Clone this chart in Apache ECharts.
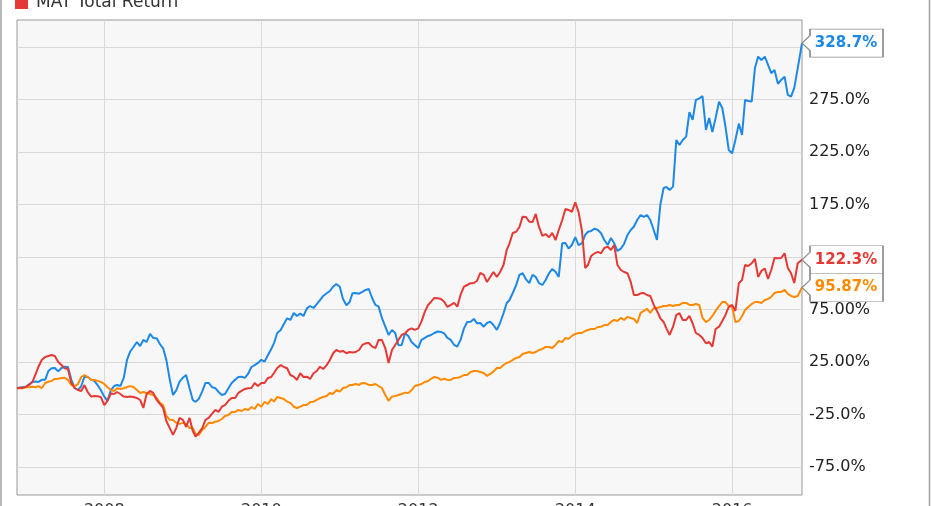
<!DOCTYPE html>
<html>
<head>
<meta charset="utf-8">
<script src="https://cdn.jsdelivr.net/npm/echarts@6/dist/echarts.min.js"></script>
<style>
html,body{margin:0;padding:0;background:#fff;}
#chart{width:931px;height:506px;}
</style>
</head>
<body>
<div id="chart"></div>
<script>
// ---------- DATA ----------
const dates = [
'2006-11-21','2006-12-01','2006-12-16',
'2007-01-01','2007-01-16','2007-02-01','2007-02-16','2007-03-01','2007-03-16','2007-04-01','2007-04-16','2007-05-01','2007-05-16','2007-06-01','2007-06-16','2007-07-01','2007-07-16','2007-08-01','2007-08-16','2007-09-01','2007-09-16','2007-10-01','2007-10-16','2007-11-01','2007-11-16','2007-12-01','2007-12-16',
'2008-01-01','2008-01-16','2008-02-01','2008-02-16','2008-03-01','2008-03-16','2008-04-01','2008-04-16','2008-05-01','2008-05-16','2008-06-01','2008-06-16','2008-07-01','2008-07-16','2008-08-01','2008-08-16','2008-09-01','2008-09-16','2008-10-01','2008-10-16','2008-11-01','2008-11-16','2008-12-01','2008-12-16',
'2009-01-01','2009-01-16','2009-02-01','2009-02-16','2009-03-01','2009-03-16','2009-04-01','2009-04-16','2009-05-01','2009-05-16','2009-06-01','2009-06-16','2009-07-01','2009-07-16','2009-08-01','2009-08-16','2009-09-01','2009-09-16','2009-10-01','2009-10-16','2009-11-01','2009-11-16','2009-12-01','2009-12-16',
'2010-01-01','2010-01-16','2010-02-01','2010-02-16','2010-03-01','2010-03-16','2010-04-01','2010-04-16','2010-05-01','2010-05-16','2010-06-01','2010-06-16','2010-07-01','2010-07-16','2010-08-01','2010-08-16','2010-09-01','2010-09-16','2010-10-01','2010-10-16','2010-11-01','2010-11-16','2010-12-01','2010-12-16',
'2011-01-01','2011-01-16','2011-02-01','2011-02-16','2011-03-01','2011-03-16','2011-04-01','2011-04-16','2011-05-01','2011-05-16','2011-06-01','2011-06-16','2011-07-01','2011-07-16','2011-08-01','2011-08-16','2011-09-01','2011-09-16','2011-10-01','2011-10-16','2011-11-01','2011-11-16','2011-12-01','2011-12-16',
'2012-01-01','2012-01-16','2012-02-01','2012-02-16','2012-03-01','2012-03-16','2012-04-01','2012-04-16','2012-05-01','2012-05-16','2012-06-01','2012-06-16','2012-07-01','2012-07-16','2012-08-01','2012-08-16','2012-09-01','2012-09-16','2012-10-01','2012-10-16','2012-11-01','2012-11-16','2012-12-01','2012-12-16',
'2013-01-01','2013-01-16','2013-02-01','2013-02-16','2013-03-01','2013-03-16','2013-04-01','2013-04-16','2013-05-01','2013-05-16','2013-06-01','2013-06-16','2013-07-01','2013-07-16','2013-08-01','2013-08-16','2013-09-01','2013-09-16','2013-10-01','2013-10-16','2013-11-01','2013-11-16','2013-12-01','2013-12-16',
'2014-01-01','2014-01-16','2014-02-01','2014-02-16','2014-03-01','2014-03-16','2014-04-01','2014-04-16','2014-05-01','2014-05-16','2014-06-01','2014-06-16','2014-07-01','2014-07-16','2014-08-01','2014-08-16','2014-09-01','2014-09-16','2014-10-01','2014-10-16','2014-11-01','2014-11-16','2014-12-01','2014-12-16',
'2015-01-01','2015-01-16','2015-02-01','2015-02-16','2015-03-01','2015-03-16','2015-04-01','2015-04-16','2015-05-01','2015-05-16','2015-06-01','2015-06-16','2015-07-01','2015-07-16','2015-08-01','2015-08-16','2015-09-01','2015-09-16','2015-10-01','2015-10-16','2015-11-01','2015-11-16','2015-12-01','2015-12-16',
'2016-01-01','2016-01-16','2016-02-01','2016-02-16','2016-03-01','2016-03-16','2016-04-01','2016-04-16','2016-05-01','2016-05-16','2016-06-01','2016-06-16','2016-07-01','2016-07-16','2016-08-01','2016-08-16','2016-09-01','2016-09-16','2016-10-01','2016-10-16','2016-11-01',
'2016-11-21'
];

// HAS total return (%)
const hasReturn = [
0, 0.5, 0.9,
1.3,3.8, 6,6.4, 6,8, 8,16.4, 19,19.3, 16,19.3, 20.5,20.2, 8,0.2, -1.7,2.1, 11,10.7, 8,7, 3,-1.7,
-8,-12, -1.7,2.1, 3,2.1, 10,27, 35,39.3, 44,40.2, 46,44, 51.7,47.9, 47.5,42.1, 38,27, 8,-6.4, -2,6,
10,12.6, 0,-11.2, -13,-10.2, -3,5, 5,1.2, 0,-3.6, -6.4,-5.5, 0,5, 8,10.7, 11,9.8, 14,20.2, 22,24.1,
27,25.3, 31.7,37.4, 43,52.6, 55.5,61.2, 66.6,65, 71.7,68.8, 71,68.8, 76,78.3, 76.4,80.2, 84,87.9, 90.4,92.6, 96.7,99.3,
96.7,85, 79,82.1, 90.4,90.7, 90,91.7, 93.6,94.5, 85.7,79.3, 77.7,66.9, 58.6,50.7, 55.5,52.6, 41,41.2, 52.3,49.8, 44,41.2,
38.3,46, 48,49.8, 50.7,52.6, 54,53.6, 52.3,47.9, 46,41.2, 39.6,46, 57,63.1, 63.4,66, 61.8,62.1, 58.6,62.1, 63.4,60.2,
55.5,62.1, 71.4,81.2, 84,90.7, 98.3,107.9, 109.5,104, 100,107.9, 106,100.2, 98.3,103.1, 109.5,113.6, 111,106, 138,138.3, 133,136.4,
144,136.4, 138,146, 149,149.8, 152,150.7, 147.6,141.2, 136.4,143.1, 138,130.7, 133,137.4, 146,150.7, 154,160.2, 165,163.1, 165,160.2,
150.7,141.2, 175,190.7, 191.6,188.8, 192,236.4, 231.7,236.4, 239.6,263, 255.5,274.5, 276,278.3, 246,257.4, 244,257.4, 273,266.9, 249,226.9,
223.8,236.4, 252,241.2, 274.5,273.6, 273,305, 315.8,312.6, 315.8,307.9, 300,303.1, 290,293.6, 296.7,279.3, 277.7,286, 304.7,
328.7
];

// MAT total return (%)
const matReturn = [
0, 0.5, 0.2,
1.3,3.1, 6,13.6, 20.5,26.9, 29.8,30.7, 31.7,30.7, 25,22.1, 19,18.3, 5,0.2, -1.7,-2.6, 3,-3.6, -8,-7.4, -7.6,-8.3,
-16,-12, -5,-5.5, -3.6,-5.5, -8,-8.3, -8,-8.3, -9.3,-11.2, -18.8,-5.5, -2.6,-4.5, -11.2,-15, -18.8,-31.2, -38,-44.5, -38,-28.3,
-30.2,-36.9, -28.3,-40.7, -46,-42.6, -38,-30.2, -28.3,-24.5, -20.7,-22.6, -17.6,-16, -12,-9.3, -9.3,-4.5, -2.6,-0.7, 0,0.2, 5,2.1,
5,5, 9.8,10.7, 14.5,19.3, 22,20.2, 19,12.6, 11,7.9, 14.3,10.7, 11,8.8, 14.3,16.4, 20.5,18.3, 22,26.9, 33.3,36.4,
34.8,35.5, 33.3,34.5, 34,34.5, 36.4,41.2, 42.8,43.1, 39.6,38.3, 46,46, 38,24, 36.4,41.2, 46,50.7, 52.3,55.5, 57,55.5,
57,63.4, 73,79.3, 82.4,86, 85.7,85, 82.4,77.4, 79.3,81.2, 77.7,88.8, 96.7,98.3, 100,100.2, 102.4,109.8, 107.9,101.2, 106,110.7,
106,110.7, 117.4,131.7, 138,147.9, 149,153.6, 163.4,163.1, 158.6,158.3, 166,153.6, 145,146.9, 143.8,147.9, 141,150.7, 160,170.7, 169.8,167.9,
177,167.9, 150,114.5, 117.4,126, 128.5,129.8, 128.5,133.6, 134.8,131.7, 136.4,117.4, 112.6,110.7, 109.5,101.2, 88.8,88.8, 90.4,90.7, 88.8,87.9,
79.3,73.6, 66.6,63.1, 57,50.7, 58.6,69.8, 71.4,65, 65,68.8, 61.9,52.6, 50.7,47.9, 42.8,44, 39.6,56.4, 58.6,64, 69.8,77.4,
79.3,73.6, 100,103.1, 117.4,116.4, 119,123.1, 106,111.7, 114,104, 112.6,124, 123.7,124, 128.5,114.5, 109.5,100.2, 119,
122.3
];

// S&P 500 total return (%)
const spxReturn = [
0, 0, 0,
1,0.9, 1.3,0.9, 2,0, 5,6.2, 7,8.8, 9,9.8, 10,7.9, 3,2.1, 4,10.7, 12.6,10.7, 8,7.9, 7,6,
4,0.9, -1.7,-2.6, 0,-0.8, 0,1.2, 2,1.2, -1.7,-4.5, -3.6,-4.5, -5.5,-6.4, -9.3,-14, -16,-26.4, -30,-30.2, -33,-34,
-33,-34, -38,-37.9, -43.6,-44.5, -39.8,-36.9, -33,-33.1, -32,-31.2, -29.3,-26.4, -25.5,-22.6, -22.6,-20.7, -21.7,-19.8, -20.7,-17.9, -19.8,-15,
-17.6,-13.1, -15,-10.2, -12.8,-8.3, -9.3,-10.2, -12.8,-14, -17.6,-18.8, -17.6,-16, -16,-13.1, -12.8,-11.2, -9.5,-8.3, -7.4,-4.5, -5.5,-1.7,
-3.3,0.2, 0.9,3.1, 3.1,4, 3.1,5, 4.7,3.1, 3.1,4, 2.1,0.2, -6.4,-12, -8,-7.4, -6.4,-5.5, -4.2,-4.5, -2,2.1,
3.1,4, 6,6.9, 9,10.7, 10,7.9, 9,7.9, 8,9.8, 10,10.7, 12.6,12.6, 15.5,16.4, 16.4,15.5, 14.5,11.7, 13.6,15.8,
19.3,19.3, 22.1,24.1, 25,26.9, 28.8,29.8, 32.6,33.6, 34.5,33.6, 34.5,36.4, 37.4,39.3, 39.3,38.3, 41.2,45, 44,47.9, 47,49.8,
51.7,52.6, 52.6,54.5, 55.5,56.4, 56.4,58.3, 58.6,60.2, 60.2,63.1, 65,64, 67,65, 68,66.9, 66,62.1, 71.7,73.6, 75.5,71.7,
76.4,76.4, 77.4,78.3, 78.3,79.3, 78.3,79.3, 79.3,81.2, 81.2,79.3, 79.3,80.2, 79.3,66.9, 63,65, 68.8,73.6, 78.3,82.1, 82.1,78.3,
77.4,63.1, 64,68.8, 74.5,77.4, 80.2,82.1, 82.1,81.2, 84,85, 86.9,90.7, 91.7,91.7, 93.6,89.8, 87.9,86.9, 87.9,
95.87
];

const seriesNames = ['HAS Total Return', 'S&P 500 Total Return', 'MAT Total Return'];
const seriesColors = ['#1e88e5', '#ff8a00', '#e53935'];

const yTickValues = [-75, -25, 25, 75, 125, 175, 225, 275, 325];
const yTickLabels = ['-75.0%', '-25.0%', '25.00%', '75.00%', '125.0%', '175.0%', '225.0%', '275.0%', '325.0%'];
const xTickDates = ['2008-01-01', '2010-01-01', '2012-01-01', '2014-01-01', '2016-01-01'];
const yRange = [-101.7, 350.7];

// ---------- BUILD ----------
const parse = s => echarts.number.parseDate(s).getTime();
const xTickValues = xTickDates.map(parse);
const times = dates.map(parse);
const pairs = vals => vals.map((v, i) => [times[i], v]);
const allValues = [hasReturn, spxReturn, matReturn];

const FONT = 'DejaVu Sans';

function makeSeries(idx) {
  const vals = allValues[idx];
  const last = vals.length - 1;
  const color = seriesColors[idx];
  return {
    name: seriesNames[idx],
    type: 'line',
    data: pairs(vals),
    showSymbol: false,
    symbol: 'none',
    clip: false,
    lineStyle: { color: color, width: 2 },
    itemStyle: { color: color },
    z: 2 + idx,
    markPoint: {
      silent: true,
      animation: false,
      symbol: 'path://M0,14 L8,6.5 L8,0 L81,0 L81,28 L8,28 L8,21.5 Z',
      symbolSize: [81, 28],
      symbolOffset: [40.5, 0],
      itemStyle: { color: '#ffffff', borderColor: '#8c8c8c', borderWidth: 1 },
      label: {
        show: true,
        position: 'inside',
        offset: [3.5, 0],
        color: color,
        fontFamily: FONT,
        fontWeight: 'bold',
        fontSize: 15,
        formatter: p => Number(p.value).toPrecision(4) + '%'
      },
      data: [{ coord: [times[last], vals[last]], value: vals[last] }]
    }
  };
}

const chart = echarts.init(document.getElementById('chart'), null, { renderer: 'canvas' });
chart.setOption({
  animation: false,
  backgroundColor: '#ffffff',
  legend: {
    data: ['MAT Total Return'],
    left: 15,
    top: -6,
    padding: 0,
    icon: 'rect',
    itemWidth: 13,
    itemHeight: 13,
    itemGap: 8,
    textStyle: { fontFamily: FONT, fontSize: 17, color: '#333', padding: [0, 0, 0, 3] }
  },
  grid: {
    left: 17, right: 129, top: 20, bottom: 11,
    show: true,
    backgroundColor: '#f7f7f7',
    borderColor: '#999999',
    borderWidth: 1,
    containLabel: false,
    outerBoundsMode: 'none'
  },
  xAxis: {
    type: 'value',
    min: times[0],
    max: times[times.length - 1],
    axisLine: { show: false },
    axisTick: { show: false, customValues: xTickValues },
    splitLine: { show: true, lineStyle: { color: '#d9d9d9', width: 1 } },
    axisLabel: {
      customValues: xTickValues,
      margin: 8,
      color: '#333',
      fontFamily: FONT,
      fontSize: 16,
      formatter: v => String(new Date(v).getFullYear())
    }
  },
  yAxis: {
    type: 'value',
    position: 'right',
    min: yRange[0],
    max: yRange[1],
    axisLine: { show: false },
    axisTick: { show: false, customValues: yTickValues },
    splitLine: { show: true, lineStyle: { color: '#d9d9d9', width: 1 } },
    axisLabel: {
      customValues: yTickValues,
      margin: 7,
      color: '#222',
      fontFamily: FONT,
      fontSize: 16,
      formatter: v => {
        const i = yTickValues.findIndex(t => Math.abs(t - v) < 1e-6);
        return i >= 0 ? yTickLabels[i] : '';
      }
    }
  },
  graphic: [
    { type: 'line', silent: true, shape: { x1: 1, y1: 0, x2: 1, y2: 506 }, style: { stroke: '#a0a0a0', lineWidth: 1.5 } },
    { type: 'line', silent: true, shape: { x1: 929.5, y1: 0, x2: 929.5, y2: 506 }, style: { stroke: '#a0a0a0', lineWidth: 1.5 } }
  ],
  series: [makeSeries(0), makeSeries(1), makeSeries(2)]
});
</script>
</body>
</html>
